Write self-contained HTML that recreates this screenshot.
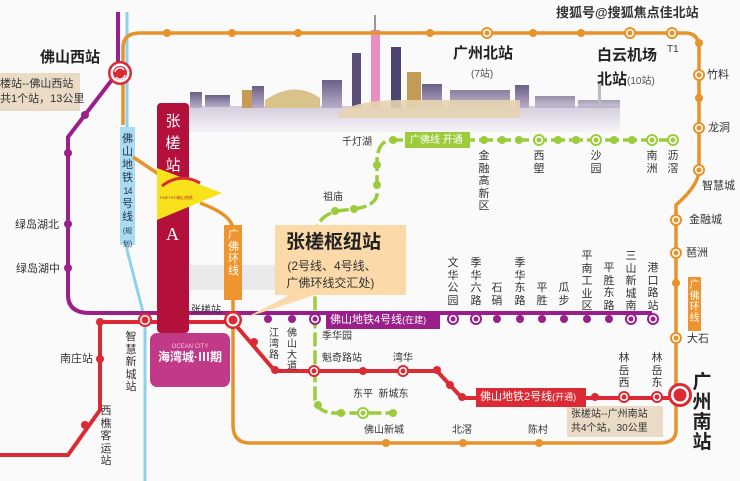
<!DOCTYPE html>
<html><head><meta charset="utf-8"><style>
body{margin:0;width:740px;height:481px;overflow:hidden;background:#fafafa;font-family:"Liberation Sans","Noto Sans CJK SC",sans-serif;}
#w{position:relative;width:740px;height:481px;}
svg{position:absolute;left:0;top:0;}
.t{position:absolute;font-size:11px;color:#333;line-height:13px;white-space:nowrap;}
.v{position:absolute;font-size:11px;color:#333;line-height:12.5px;width:12px;word-break:break-all;white-space:normal;text-align:center;}
.b{font-weight:bold;color:#222;}
</style></head><body><div id="w">
<svg width="740" height="481" viewBox="0 0 740 481">
<defs>
<linearGradient id="sk" x1="0" y1="0" x2="0" y2="1"><stop offset="0" stop-color="#6b5f86"/><stop offset="1" stop-color="#b8aec8"/></linearGradient>
<linearGradient id="rf" x1="0" y1="0" x2="0" y2="1"><stop offset="0" stop-color="#c9c0d6"/><stop offset="1" stop-color="#f4f2f6"/></linearGradient>
</defs>
<g>
<rect x="180" y="106" width="440" height="26" fill="url(#rf)" opacity="0.8"/>
<rect x="190" y="92" width="12" height="16" fill="url(#sk)"/><rect x="205" y="95" width="25" height="12" fill="url(#sk)"/>
<rect x="242" y="90" width="10" height="18" fill="#c79a55"/><rect x="252" y="86" width="12" height="22" fill="url(#sk)"/>
<path d="M265 100 Q295 80 320 98 L320 108 L265 108Z" fill="#d8c48a"/>
<rect x="322" y="80" width="20" height="28" fill="url(#sk)"/>
<rect x="352" y="53" width="9" height="55" fill="#5b4f7a"/>
<rect x="371" y="30" width="9" height="78" fill="#e98fbf"/><rect x="374" y="15" width="2" height="16" fill="#999"/>
<rect x="391" y="47" width="10" height="61" fill="#4d4470"/>
<rect x="407" y="72" width="14" height="36" fill="#c49a55"/><rect x="422" y="84" width="20" height="24" fill="url(#sk)"/>
<rect x="450" y="90" width="60" height="18" fill="url(#sk)" opacity="0.8"/>
<rect x="515" y="85" width="14" height="23" fill="url(#sk)"/><rect x="535" y="96" width="40" height="12" fill="url(#sk)" opacity="0.7"/>
<rect x="578" y="100" width="42" height="8" fill="url(#sk)" opacity="0.6"/><rect x="598" y="82" width="3" height="26" fill="#bbb"/>
<path d="M338 112 Q360 100 400 100 L520 100 L520 118 L338 118Z" fill="#e6d4b0" opacity="0.9"/>
</g>
<rect x="190" y="265" width="85" height="25" fill="#eaeaea"/>
<path d="M127 12 V250 L145 320 V481" stroke="#8fd0ec" stroke-width="3" fill="none"/>
<rect x="120" y="127" width="15" height="118" fill="#a9dcf2"/>
<path d="M123 125 V48 Q123 33 140 33 H685 Q699 33 699 48 V170 Q699 185 676 205 V430 Q676 443 660 443 H250 Q233 443 233 425 V300" stroke="#e8922a" stroke-width="3.5" fill="none"/>
<path d="M133 157 L160 175 M200 203 Q233 215 233 230" stroke="#e8922a" stroke-width="3.5" fill="none"/>
<rect x="224" y="225" width="18" height="75" fill="#ee9530"/>
<path d="M118 12 V72 L68 137 V295 Q68 313 90 313 H233 H652" stroke="#9b1f8a" stroke-width="4" fill="none"/>
<path d="M0 455 H68 L100 410 V322 H233 L275 371 H437 L462 398 H680" stroke="#dc2a35" stroke-width="4" fill="none"/>
<path d="M673 140 H393 Q378 140 377 160 V195 Q375 208 345 210 Q318 212 315 235 V400 Q318 413 335 413 H393" stroke="#9ccc3c" stroke-width="3.5" fill="none" stroke-dasharray="14 4"/>
<rect x="157" y="103" width="32" height="230" rx="4" fill="#b4103c"/>
<path d="M157 168 L222 193 L157 220Z" fill="#f7e21b"/>
<path d="M162 186 Q180 172 200 183" stroke="#d8302a" stroke-width="3" fill="none"/>
<text x="160" y="199" font-size="4" fill="#c0302a" font-family="Liberation Sans">FMETRO佛山地铁</text>
<rect x="150" y="333" width="80" height="54" rx="7" fill="#c03a88"/>
<rect x="275" y="225" width="131" height="70" fill="#fbd9a8"/>
<path d="M300 290 L245 318 L330 290Z" fill="#fbd9a8"/>
<rect x="0" y="73" width="80" height="38" fill="#eadbc6"/>
<rect x="567" y="406" width="96" height="31" fill="#eadbc6"/>
<rect x="405" y="132" width="65" height="16" fill="#9ccc3c"/>
<rect x="326" y="312" width="114" height="17" fill="#9b1f8a"/>
<rect x="476" y="388" width="110" height="19" fill="#dc2a35"/>
<rect x="688" y="277" width="13" height="54" fill="#ee9530"/>
<g fill="#e8922a">
<circle cx="167" cy="33" r="4"/><circle cx="232" cy="33" r="4"/><circle cx="298" cy="33" r="4"/><circle cx="430" cy="33" r="4"/><circle cx="533" cy="33" r="4"/><circle cx="581" cy="33" r="4"/><circle cx="699" cy="43" r="4"/><circle cx="699" cy="98" r="4"/><circle cx="676" cy="283" r="4"/><circle cx="386" cy="443" r="4"/><circle cx="463" cy="443" r="4"/><circle cx="539" cy="443" r="4"/>
</g>
<g>
<g fill="#e8922a"><circle cx="487" cy="33" r="6"/><circle cx="630" cy="33" r="6"/><circle cx="672" cy="33" r="6"/><circle cx="699" cy="75" r="6"/><circle cx="699" cy="128" r="6"/><circle cx="699" cy="170" r="6"/><circle cx="676" cy="220" r="6"/><circle cx="676" cy="253" r="6"/><circle cx="676" cy="338" r="6"/></g>
<g fill="#fff"><circle cx="487" cy="33" r="4"/><circle cx="630" cy="33" r="4"/><circle cx="672" cy="33" r="4"/><circle cx="699" cy="75" r="4"/><circle cx="699" cy="128" r="4"/><circle cx="699" cy="170" r="4"/><circle cx="676" cy="220" r="4"/><circle cx="676" cy="253" r="4"/><circle cx="676" cy="338" r="4"/></g>
<g fill="#e8922a"><circle cx="487" cy="33" r="2.5"/><circle cx="630" cy="33" r="2.5"/><circle cx="672" cy="33" r="2.5"/><circle cx="699" cy="75" r="2.5"/><circle cx="699" cy="128" r="2.5"/><circle cx="699" cy="170" r="2.5"/><circle cx="676" cy="220" r="2.5"/><circle cx="676" cy="253" r="2.5"/><circle cx="676" cy="338" r="2.5"/></g>
</g>
<g fill="#9ccc3c"><circle cx="393" cy="140" r="4"/><circle cx="484" cy="140" r="4"/><circle cx="502" cy="140" r="4"/><circle cx="519" cy="140" r="4"/><circle cx="558" cy="140" r="4"/><circle cx="576" cy="140" r="4"/><circle cx="614" cy="140" r="4"/><circle cx="632" cy="140" r="4"/><circle cx="377" cy="165" r="4"/><circle cx="377" cy="185" r="4"/><circle cx="354" cy="209" r="4"/><circle cx="335" cy="211" r="4"/><circle cx="318" cy="405" r="4"/><circle cx="341" cy="413" r="4"/><circle cx="393" cy="413" r="4"/>
<circle cx="539" cy="140" r="6"/><circle cx="596" cy="140" r="6"/><circle cx="652" cy="140" r="6"/><circle cx="673" cy="140" r="6"/><circle cx="363" cy="413" r="6"/></g>
<g fill="#fff"><circle cx="539" cy="140" r="4"/><circle cx="596" cy="140" r="4"/><circle cx="652" cy="140" r="4"/><circle cx="673" cy="140" r="4"/><circle cx="363" cy="413" r="4"/></g>
<g fill="#9ccc3c"><circle cx="539" cy="140" r="2.5"/><circle cx="596" cy="140" r="2.5"/><circle cx="652" cy="140" r="2.5"/><circle cx="673" cy="140" r="2.5"/><circle cx="363" cy="413" r="2.5"/></g>
<g fill="#9b1f8a"><circle cx="85" cy="115" r="4"/><circle cx="68" cy="153" r="4"/><circle cx="68" cy="224" r="4"/><circle cx="68" cy="268" r="4"/><circle cx="268" cy="319" r="4"/><circle cx="292" cy="319" r="4"/><circle cx="497" cy="319" r="4"/><circle cx="520" cy="319" r="4"/><circle cx="542" cy="319" r="4"/><circle cx="564" cy="319" r="4"/><circle cx="587" cy="319" r="4"/><circle cx="609" cy="319" r="4"/>
<circle cx="315" cy="319" r="6"/><circle cx="453" cy="319" r="6"/><circle cx="476" cy="319" r="6"/><circle cx="631" cy="319" r="6"/><circle cx="653" cy="319" r="6"/></g>
<g fill="#fff"><circle cx="315" cy="319" r="4"/><circle cx="453" cy="319" r="4"/><circle cx="476" cy="319" r="4"/><circle cx="631" cy="319" r="4"/><circle cx="653" cy="319" r="4"/></g>
<g fill="#9b1f8a"><circle cx="315" cy="319" r="2.5"/><circle cx="453" cy="319" r="2.5"/><circle cx="476" cy="319" r="2.5"/><circle cx="631" cy="319" r="2.5"/><circle cx="653" cy="319" r="2.5"/></g>
<g fill="#dc2a35"><circle cx="100" cy="322" r="4"/><circle cx="100" cy="359" r="4"/><circle cx="85" cy="425" r="4"/><circle cx="254" cy="342" r="4"/><circle cx="275" cy="370" r="4"/><circle cx="363" cy="371" r="4"/><circle cx="437" cy="370" r="4"/><circle cx="450" cy="385" r="4"/><circle cx="462" cy="397" r="4"/><circle cx="595" cy="397" r="4"/>
<circle cx="314" cy="371" r="6"/><circle cx="403" cy="371" r="6"/><circle cx="624" cy="397" r="6"/><circle cx="657" cy="397" r="6"/><circle cx="145" cy="320" r="7"/></g>
<g fill="#fff"><circle cx="314" cy="371" r="4"/><circle cx="403" cy="371" r="4"/><circle cx="624" cy="397" r="4"/><circle cx="657" cy="397" r="4"/><circle cx="145" cy="320" r="5"/></g>
<g fill="#dc2a35"><circle cx="314" cy="371" r="2.5"/><circle cx="403" cy="371" r="2.5"/><circle cx="624" cy="397" r="2.5"/><circle cx="657" cy="397" r="2.5"/><circle cx="145" cy="320" r="3.5"/></g>
<circle cx="120" cy="73" r="12" fill="#dc2a35"/><circle cx="120" cy="73" r="9.5" fill="#fff"/><circle cx="120" cy="73" r="7" fill="#dc2a35"/>
<path d="M115 72 A5 5 0 0 1 124 70 M125 75 A5 5 0 0 1 116 77" stroke="#fff" stroke-width="1.5" fill="none"/>
<circle cx="233" cy="320" r="9" fill="#dc2a35"/><circle cx="233" cy="320" r="6.5" fill="#fff"/><circle cx="233" cy="320" r="4.5" fill="#dc2a35"/>
<circle cx="680" cy="395" r="12" fill="#dc2a35"/><circle cx="680" cy="395" r="9" fill="#fff"/><circle cx="680" cy="395" r="6.5" fill="#dc2a35"/>
</svg>

<div class="t b" style="left:40px;top:51px;font-size:15px;">佛山西站</div>
<div class="t" style="left:0;top:77px;font-size:11px;line-height:15px;">楼站--佛山西站<br>共1个站，13公里</div>
<div class="t b" style="left:453px;top:47px;font-size:15px;">广州北站</div>
<div class="t" style="left:471px;top:68px;font-size:10px;color:#555;">(7站)</div>
<div class="t b" style="left:597px;top:44px;font-size:15px;line-height:24px;">白云机场<br>北站<span style="font-weight:normal;font-size:10px;color:#555">(10站)</span></div>
<div class="t" style="left:667px;top:43px;font-size:10px;">T1</div>
<div class="t" style="left:707px;top:69px;">竹料</div>
<div class="t" style="left:708px;top:122px;">龙洞</div>
<div class="t" style="left:702px;top:180px;">智慧城</div>
<div class="t" style="left:689px;top:214px;">金融城</div>
<div class="t" style="left:686px;top:247px;">琶洲</div>
<div class="t" style="left:687px;top:333px;">大石</div>
<div class="v b" style="left:692px;top:373px;font-size:19px;width:20px;line-height:20px;">广州南站</div>
<div class="v" style="left:688px;top:280px;font-size:10px;color:#fff;width:13px;line-height:11px;">广佛环线</div>
<div class="t" style="left:342px;top:136px;font-size:10px;">千灯湖</div>
<div class="t" style="left:410px;top:134px;font-size:10px;color:#fff;">广佛线 开通</div>
<div class="v" style="left:478px;top:150px;">金融高新区</div>
<div class="v" style="left:533px;top:150px;">西塱</div>
<div class="v" style="left:590px;top:150px;">沙园</div>
<div class="v" style="left:646px;top:150px;">南洲</div>
<div class="v" style="left:667px;top:150px;">沥滘</div>
<div class="t" style="left:323px;top:191px;font-size:10px;">祖庙</div>
<div class="t" style="left:15px;top:219px;">绿岛湖北</div>
<div class="t" style="left:16px;top:263px;">绿岛湖中</div>
<div class="v" style="left:121px;top:133px;width:13px;color:#235;line-height:13px;">佛山地铁<span style="font-size:9px;letter-spacing:-1px;white-space:nowrap;">14</span>号线<span style="font-size:7px;line-height:8px;">(规划)</span></div>
<div class="v" style="left:160px;top:111px;font-size:15px;width:26px;line-height:22px;color:#fff;">张槎站</div>
<div class="t" style="left:166px;top:228px;font-size:18px;color:#fff;font-family:'Liberation Serif',serif;">A</div>
<div class="v" style="left:227px;top:229px;color:#fff;width:13px;font-size:11px;line-height:12px;">广佛环线</div>
<div class="t b" style="left:286px;top:232px;font-size:19px;line-height:22px;">张槎枢纽站</div>
<div class="t" style="left:284px;top:258px;font-size:12px;line-height:17px;text-align:center;">&nbsp;(2号线、4号线、<br>广佛环线交汇处)</div>
<div class="t" style="left:191px;top:304px;font-size:10px;">张槎站</div>
<div class="t" style="left:330px;top:314px;font-size:11px;color:#fff;">佛山地铁4号线<span style="font-size:9px">(在建)</span></div>
<div class="v" style="left:447px;top:257px;">文华公园</div>
<div class="v" style="left:470px;top:257px;">季华六路</div>
<div class="v" style="left:491px;top:282px;">石硝</div>
<div class="v" style="left:514px;top:257px;">季华东路</div>
<div class="v" style="left:536px;top:282px;">平胜</div>
<div class="v" style="left:558px;top:282px;">瓜步</div>
<div class="v" style="left:581px;top:250px;">平南工业区</div>
<div class="v" style="left:603px;top:262px;">平胜东路</div>
<div class="v" style="left:625px;top:250px;">三山新城南</div>
<div class="v" style="left:647px;top:262px;">港口路站</div>
<div class="t" style="left:152px;top:341px;font-size:6px;width:76px;text-align:center;color:#fbd;">OCEAN CITY</div>
<div class="t b" style="left:152px;top:351px;font-size:12px;color:#fff;width:76px;text-align:center;">海湾城·Ⅲ期</div>
<div class="v" style="left:268px;top:328px;font-size:10px;line-height:11px;">江湾路</div>
<div class="v" style="left:286px;top:328px;font-size:10px;line-height:11px;">佛山大道</div>
<div class="t" style="left:322px;top:330px;font-size:10px;">季华园</div>
<div class="t" style="left:322px;top:352px;font-size:10px;">魁奇路站</div>
<div class="t" style="left:393px;top:352px;font-size:10px;">湾华</div>
<div class="t" style="left:353px;top:388px;font-size:10px;">东平&nbsp;&nbsp;新城东</div>
<div class="t" style="left:364px;top:424px;font-size:10px;">佛山新城</div>
<div class="t" style="left:452px;top:424px;font-size:10px;">北滘</div>
<div class="t" style="left:528px;top:424px;font-size:10px;">陈村</div>
<div class="t" style="left:480px;top:391px;font-size:11px;color:#fff;">佛山地铁2号线<span style="font-size:9px">(开通)</span></div>
<div class="v" style="left:618px;top:352px;">林岳西</div>
<div class="v" style="left:651px;top:352px;">林岳东</div>
<div class="t" style="left:571px;top:408px;font-size:10px;line-height:14px;">张槎站--广州南站<br>共4个站，30公里</div>
<div class="t" style="left:60px;top:353px;">南庄站</div>
<div class="v" style="left:125px;top:331px;">智慧新城站</div>
<div class="v" style="left:100px;top:405px;">西樵客运站</div>
<div class="t b" style="left:556px;top:6px;font-size:13px;color:#333;text-shadow:0 0 2px #fff,0 0 2px #fff;">搜狐号@搜狐焦点佳北站</div>
</div></body></html>
